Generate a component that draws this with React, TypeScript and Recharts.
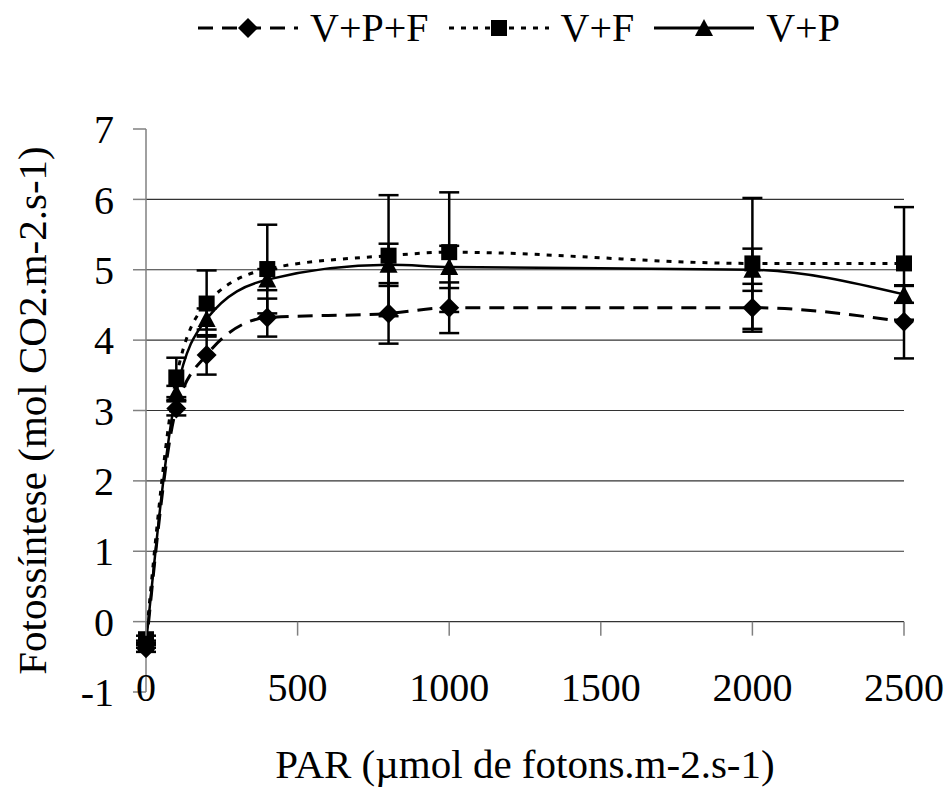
import { LineChart, Line, XAxis, YAxis, ReferenceLine, ErrorBar } from "recharts";

const PAR = [0, 100, 200, 400, 800, 1000, 2000, 2500];

const VPF = [-0.38, 3.03, 3.79, 4.32, 4.38, 4.46, 4.46, 4.26];
const VPF_ERR = [0.05, 0.1, 0.28, 0.27, 0.43, 0.36, 0.34, 0.52];

const VF = [-0.25, 3.47, 4.52, 5.01, 5.2, 5.25, 5.09, 5.09];
const VF_ERR = [0.05, 0.28, 0.47, 0.63, 0.86, 0.85, 0.93, 0.8];

const VP = [-0.32, 3.25, 4.3, 4.86, 5.07, 5.04, 5.0, 4.65];
const VP_ERR = [0.05, 0.1, 0.15, 0.15, 0.3, 0.3, 0.3, 0.12];

const X_TICKS = [0, 500, 1000, 1500, 2000, 2500];
const Y_TICKS = [-1, 0, 1, 2, 3, 4, 5, 6, 7];
const GRID_VALUES = [0, 1, 2, 3, 4, 5, 6];

const SERIES_NAMES = ["V+P+F", "V+F", "V+P"];

const data = PAR.map((par, i) => ({
  par,
  vpf: VPF[i],
  vpfErr: VPF_ERR[i],
  vf: VF[i],
  vfErr: VF_ERR[i],
  vp: VP[i],
  vpErr: VP_ERR[i],
}));

const FONT = "'Times New Roman', Times, 'Liberation Serif', 'DejaVu Serif', 'Noto Serif', serif";
const WIDTH = 948;
const HEIGHT = 787;
const MARGIN_TOP = 129;
const X_AXIS_HEIGHT = 95;
const PLOT_HEIGHT = HEIGHT - MARGIN_TOP - X_AXIS_HEIGHT;
// the x axis line sits at y = 0, one unit above the bottom of the -1..7 range
const ZERO_OFFSET = PLOT_HEIGHT / (Y_TICKS.length - 1);

const DASHED = "15 9";
const DOTTED = "5 7";

function Diamond({ cx, cy }: { cx: number; cy: number }) {
  return (
    <polygon
      points={`${cx},${cy - 10} ${cx + 10},${cy} ${cx},${cy + 10} ${cx - 10},${cy}`}
      fill="#000"
    />
  );
}

function Square({ cx, cy }: { cx: number; cy: number }) {
  return <rect x={cx - 8} y={cy - 8} width={16} height={16} fill="#000" />;
}

function Triangle({ cx, cy }: { cx: number; cy: number }) {
  return (
    <polygon
      points={`${cx},${cy - 9} ${cx + 9},${cy + 8} ${cx - 9},${cy + 8}`}
      fill="#000"
    />
  );
}

const MARKERS = [Diamond, Square, Triangle];
const DASHES = [DASHED, DOTTED, undefined];

function XTick({ x, y, payload }: any) {
  return (
    <g>
      <line
        x1={x}
        x2={x}
        y1={y - ZERO_OFFSET}
        y2={y - ZERO_OFFSET + 14}
        stroke="#808080"
        strokeWidth={1.5}
      />
      <text
        x={x}
        y={y + 9}
        textAnchor="middle"
        fontSize={40}
        fontFamily={FONT}
        fill="#000"
      >
        {payload.value}
      </text>
    </g>
  );
}

function XLabel({ viewBox }: any) {
  return (
    <text
      x={viewBox.x + viewBox.width / 2}
      y={viewBox.y + 86}
      textAnchor="middle"
      fontSize={41}
      fontFamily={FONT}
      fill="#000"
    >
      PAR (µmol de fotons.m-2.s-1)
    </text>
  );
}

function YLabel({ viewBox }: any) {
  const cx = 46;
  const cy = viewBox.y + viewBox.height / 2;
  return (
    <text
      x={cx}
      y={cy}
      transform={`rotate(-90 ${cx} ${cy})`}
      textAnchor="middle"
      fontSize={41}
      fontFamily={FONT}
      fill="#000"
    >
      Fotossíntese (mol CO2.m-2.s-1)
    </text>
  );
}

function LegendIcon({ index }: { index: number }) {
  const Marker = MARKERS[index];
  return (
    <svg width={100} height={24} style={{ display: "block" }}>
      <line
        x1={0}
        x2={100}
        y1={12}
        y2={12}
        stroke="#000"
        strokeWidth={3}
        strokeDasharray={DASHES[index]}
      />
      <Marker cx={50} cy={12} />
    </svg>
  );
}

function TopLegend() {
  return (
    <div
      style={{
        position: "absolute",
        left: 198,
        top: 6,
        display: "flex",
        alignItems: "center",
        fontFamily: FONT,
        fontSize: 40,
        lineHeight: "44px",
        color: "#000",
      }}
    >
      {SERIES_NAMES.map((name, i) => (
        <div
          key={name}
          style={{ display: "flex", alignItems: "center", marginRight: 20 }}
        >
          <LegendIcon index={i} />
          <span style={{ marginLeft: 12 }}>{name}</span>
        </div>
      ))}
    </div>
  );
}

export default function App() {
  const keys = ["vpf", "vf", "vp"];
  return (
    <div
      style={{
        position: "absolute",
        left: 0,
        top: 0,
        width: WIDTH,
        height: HEIGHT,
        background: "#fff",
      }}
    >
      <TopLegend />
      <LineChart
        width={WIDTH}
        height={HEIGHT}
        data={data}
        margin={{ top: MARGIN_TOP, right: 44, left: 0, bottom: 0 }}
      >
        {GRID_VALUES.map((v) => (
          <ReferenceLine key={v} y={v} stroke="#333" strokeWidth={1.2} />
        ))}
        <XAxis
          dataKey="par"
          type="number"
          domain={[0, 2500]}
          ticks={X_TICKS}
          axisLine={false}
          tickLine={false}
          tickSize={0}
          tickMargin={0}
          height={X_AXIS_HEIGHT}
          tick={<XTick />}
          interval={0}
          label={<XLabel />}
        />
        <YAxis
          type="number"
          domain={[-1, 7]}
          ticks={Y_TICKS}
          width={146}
          interval={0}
          tickSize={13}
          tickMargin={19}
          axisLine={{ stroke: "#808080", strokeWidth: 1.5 }}
          tickLine={{ stroke: "#808080", strokeWidth: 1.5 }}
          tick={{ fontSize: 40, fontFamily: FONT, fill: "#000" }}
          label={<YLabel />}
        />
        {keys.map((key, i) => {
          const Marker = MARKERS[i];
          return (
            <Line
              key={key}
              type="monotone"
              dataKey={key}
              name={SERIES_NAMES[i]}
              stroke="#000"
              strokeWidth={i === 2 ? 2.5 : 3}
              strokeDasharray={DASHES[i]}
              isAnimationActive={false}
              activeDot={false}
              dot={(p: any) => (
                <Marker key={`${key}-${p.index}`} cx={p.cx} cy={p.cy} />
              )}
            >
              <ErrorBar
                dataKey={`${key}Err`}
                direction="y"
                width={10}
                stroke="#000"
                strokeWidth={2.5}
                isAnimationActive={false}
              />
            </Line>
          );
        })}
      </LineChart>
    </div>
  );
}
